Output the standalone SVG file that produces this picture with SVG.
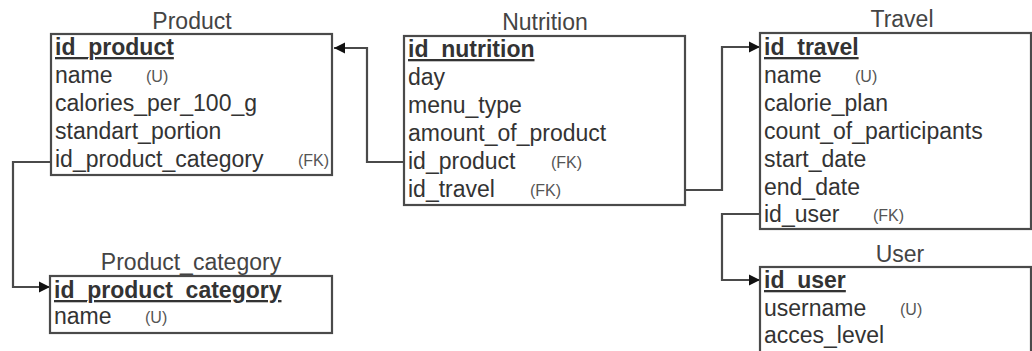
<svg xmlns="http://www.w3.org/2000/svg" width="1032" height="351" viewBox="0 0 1032 351">
<style>
.box{fill:#fff;stroke:#4a4a4a;stroke-width:2.2}
.title{font-family:"Liberation Sans",Arial,sans-serif;font-size:23px;fill:#444;text-anchor:middle}
.f{font-family:"Liberation Sans",Arial,sans-serif;font-size:23px;fill:#333}
.pk{font-weight:bold;text-decoration:underline}
.tag{font-family:"Liberation Sans",Arial,sans-serif;font-size:16px;fill:#555}
.conn{fill:none;stroke:#4a4a4a;stroke-width:2.2}
</style>
<defs>
<marker id="arr" viewBox="0 0 10 10" refX="10" refY="5" markerWidth="11" markerHeight="13" markerUnits="userSpaceOnUse" orient="auto">
<path d="M0,0 L10,5 L0,10 z" fill="#111"/>
</marker>
</defs>
<rect width="1032" height="351" fill="#fff"/>
<g id="connectors">
<path class="conn" d="M404,162 H367 V48 H334" marker-end="url(#arr)"/>
<path class="conn" d="M685,190 H722 V47 H760" marker-end="url(#arr)"/>
<path class="conn" d="M51,162 H13 V287 H50" marker-end="url(#arr)"/>
<path class="conn" d="M760,214 H722 V280 H760" marker-end="url(#arr)"/>
</g>
<g id="product">
<text class="title" x="192" y="29">Product</text>
<rect class="box" x="51" y="34" width="281" height="141"/>
<text class="f pk" x="55" y="55">id_product</text>
<text class="f" x="55" y="83">name</text><text class="tag" x="146" y="82">(U)</text>
<text class="f" x="55" y="111">calories_per_100_g</text>
<text class="f" x="55" y="139">standart_portion</text>
<text class="f" x="55" y="167">id_product_category</text><text class="tag" x="298" y="166">(FK)</text>
</g>
<g id="nutrition">
<text class="title" x="545" y="30">Nutrition</text>
<rect class="box" x="404" y="36" width="281" height="169"/>
<text class="f pk" x="408" y="57">id_nutrition</text>
<text class="f" x="408" y="85">day</text>
<text class="f" x="408" y="113">menu_type</text>
<text class="f" x="408" y="141">amount_of_product</text>
<text class="f" x="408" y="169">id_product</text><text class="tag" x="551" y="168">(FK)</text>
<text class="f" x="408" y="197">id_travel</text><text class="tag" x="530" y="196">(FK)</text>
</g>
<g id="travel">
<text class="title" x="902" y="27">Travel</text>
<rect class="box" x="760" y="33" width="271" height="196"/>
<text class="f pk" x="764" y="55">id_travel</text>
<text class="f" x="764" y="83">name</text><text class="tag" x="855" y="82">(U)</text>
<text class="f" x="764" y="111">calorie_plan</text>
<text class="f" x="764" y="139">count_of_participants</text>
<text class="f" x="764" y="167">start_date</text>
<text class="f" x="764" y="195">end_date</text>
<text class="f" x="764" y="222">id_user</text><text class="tag" x="873" y="221">(FK)</text>
</g>
<g id="user">
<text class="title" x="900" y="262">User</text>
<rect class="box" x="760" y="267" width="271" height="90"/>
<text class="f pk" x="764" y="288">id_user</text>
<text class="f" x="764" y="316">username</text><text class="tag" x="900" y="315">(U)</text>
<text class="f" x="764" y="343">acces_level</text>
</g>
<g id="product_category">
<text class="title" x="191" y="270">Product_category</text>
<rect class="box" x="50" y="276" width="282" height="57"/>
<text class="f pk" x="54" y="298">id_product_category</text>
<text class="f" x="54" y="324">name</text><text class="tag" x="145" y="323">(U)</text>
</g>
</svg>
